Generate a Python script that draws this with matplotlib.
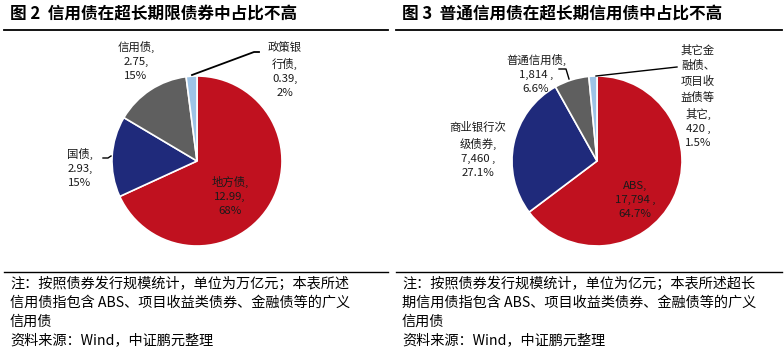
import matplotlib
matplotlib.use("Agg")
import matplotlib.pyplot as plt
from matplotlib.lines import Line2D

plt.rcParams['font.family'] = ['Noto Sans CJK SC', 'DejaVu Sans']

W, H = 784, 351

# ---------------- data ----------------
left_names = ["地方债", "国债", "信用债", "政策银\n行债"]
left_values = [12.99, 2.93, 2.75, 0.39]
left_pcts = ["68%", "15%", "15%", "2%"]

right_names = ["ABS", "商业银行次\n级债券", "普通信用债", "其它金\n融债、\n项目收\n益债等\n其它"]
right_values = [17794, 7460, 1814, 420]
right_pcts = ["64.7%", "27.1%", "6.6%", "1.5%"]

colors = ["#C0111F", "#1F2A7B", "#5F5F5F", "#9DC3E6"]

left_title = "图 2  信用债在超长期限债券中占比不高"
right_title = "图 3  普通信用债在超长期信用债中占比不高"
left_note = ["注：按照债券发行规模统计，单位为万亿元；本表所述",
             "信用债指包含 ABS、项目收益类债券、金融债等的广义",
             "信用债",
             "资料来源：Wind，中证鹏元整理"]
right_note = ["注：按照债券发行规模统计，单位为亿元；本表所述超长",
              "期信用债指包含 ABS、项目收益类债券、金融债等的广义",
              "信用债",
              "资料来源：Wind，中证鹏元整理"]

fig = plt.figure(figsize=(W / 100, H / 100), dpi=100)


def px_axes(x0, y0, x1, y1):
    return fig.add_axes([x0 / W, 1 - y1 / H, (x1 - x0) / W, (y1 - y0) / H])


def draw_pie(cx, cy, r, values):
    ax = px_axes(cx - r, cy - r, cx + r, cy + r)
    ax.pie(values, colors=colors, startangle=90, counterclock=False,
           wedgeprops=dict(edgecolor="white", linewidth=1.2), radius=1)
    ax.set_xlim(-1, 1)
    ax.set_ylim(-1, 1)
    ax.set_aspect("equal")
    ax.axis("off")


draw_pie(197, 161, 85, left_values)
draw_pie(597, 161, 85, right_values)

# overlay axes in pixel coordinates
ov = fig.add_axes([0, 0, 1, 1], zorder=5)
ov.set_xlim(0, W)
ov.set_ylim(H, 0)
ov.axis("off")
ov.patch.set_alpha(0)

# titles and rules
ov.text(10, 14, left_title, fontsize=12, fontweight="bold", va="center", ha="left")
ov.text(402, 14, right_title, fontsize=12, fontweight="bold", va="center", ha="left")
for x0, x1 in [(4, 388), (396, 782)]:
    ov.add_line(Line2D([x0, x1], [30, 30], color="black", lw=1.3))
    ov.add_line(Line2D([x0, x1], [272, 272], color="black", lw=1.0))

# notes
for x, lines in [(10, left_note), (402, right_note)]:
    for i, s in enumerate(lines):
        ov.text(x, 284 + i * 18.7, s, fontsize=10.2, va="center", ha="left")

lab_kw = dict(fontsize=8.2, ha="center", va="center", linespacing=1.5, color="#1a1a1a")

# left labels
left_pos = [(230, 196), (80, 168), (136, 61), (285, 70)]
for n, v, p, (x, y) in zip(left_names, left_values, left_pcts, left_pos):
    ov.text(x, y, f"{n},\n{v:.2f},\n{p}", **lab_kw)

# right labels
right_pos = [(635, 200), (478, 150), (536, 74), (698, 96)]
for n, v, p, (x, y) in zip(right_names, right_values, right_pcts, right_pos):
    ov.text(x, y, f"{n},\n{v:,} ,\n{p}", **lab_kw)

# leader lines
ov.add_line(Line2D([192, 254, 259], [75, 52, 52], color="black", lw=1.3))
ov.add_line(Line2D([103, 108, 111], [158, 158, 156], color="black", lw=1.0))
ov.add_line(Line2D([559, 566, 569], [69, 69, 79], color="black", lw=1.0))
ov.add_line(Line2D([596, 677], [76, 67], color="black", lw=1.0))

fig.savefig("out.png", dpi=100, facecolor="white")
